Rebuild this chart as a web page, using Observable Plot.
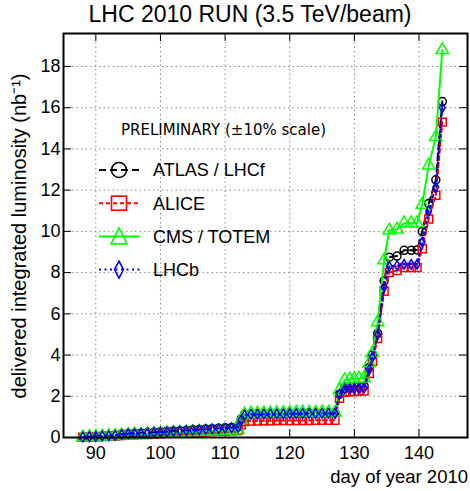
<!DOCTYPE html>
<html><head><meta charset="utf-8">
<script src="https://cdn.jsdelivr.net/npm/d3@7"></script>
<script src="https://cdn.jsdelivr.net/npm/@observablehq/plot@0.6"></script>
<style>body{margin:0;background:#fff} svg{font-family:"Liberation Sans",Arial,sans-serif}</style>
</head><body><div id="chart"></div>
<script>
const title = "LHC 2010 RUN (3.5 TeV/beam)";
const xTitle = "day of year 2010";
const yTitle = "delivered integrated luminosity (nb⁻¹)";
const note = "PRELIMINARY (±10% scale)";
const xTicks = [90, 100, 110, 120, 130, 140];
const yTicks = [0, 2, 4, 6, 8, 10, 12, 14, 16, 18];

const days = [88,89,90,91,92,93,94,95,96,97,98,99,100,101,102,103,104,105,106,107,108,109,110,111,112,112.5,113,114,115,116,117,118,119,120,121,122,123,124,125,126,127,127.7,128.5,129.3,130,130.7,131.5,132.3,132.8,133.6,134.6,135.4,136.6,137.7,138.8,139.7,140.5,141.5,142.6,143.6];
const atlas = [0.03,0.05,0.07,0.09,0.10,0.12,0.17,0.20,0.21,0.22,0.24,0.26,0.28,0.30,0.32,0.33,0.35,0.37,0.39,0.41,0.43,0.45,0.47,0.49,0.51,0.9,1.12,1.15,1.15,1.16,1.16,1.17,1.17,1.18,1.18,1.18,1.19,1.19,1.2,1.2,1.2,2.1,2.45,2.47,2.48,2.5,2.5,3.4,4.0,5.05,7.6,8.75,8.8,9.08,9.08,9.1,10.0,11.35,12.5,16.3];
const alice = [0.01,0.03,0.04,0.05,0.06,0.07,0.10,0.13,0.13,0.14,0.15,0.17,0.18,0.20,0.21,0.22,0.23,0.25,0.26,0.27,0.29,0.30,0.32,0.33,0.34,0.6,0.78,0.8,0.8,0.81,0.81,0.82,0.82,0.82,0.83,0.83,0.83,0.84,0.84,0.84,0.84,1.9,2.2,2.22,2.23,2.24,2.25,3.1,3.7,4.8,7.1,8.0,8.1,8.25,8.25,8.25,9.16,10.6,11.75,15.3];
const cms = [0.02,0.03,0.04,0.05,0.06,0.08,0.11,0.13,0.14,0.15,0.17,0.18,0.20,0.21,0.22,0.23,0.25,0.26,0.28,0.29,0.31,0.32,0.34,0.35,0.37,0.85,1.12,1.17,1.17,1.18,1.18,1.19,1.19,1.2,1.2,1.2,1.21,1.21,1.22,1.22,1.22,2.3,2.78,2.82,2.84,2.86,2.88,3.6,4.1,5.6,8.6,10.05,10.1,10.4,10.4,10.4,11.3,13.2,14.58,18.8];
const lhcb = [0.02,0.04,0.05,0.07,0.08,0.10,0.15,0.18,0.19,0.20,0.22,0.24,0.26,0.28,0.30,0.31,0.33,0.35,0.37,0.39,0.41,0.43,0.45,0.47,0.49,0.85,1.08,1.12,1.12,1.13,1.13,1.14,1.14,1.15,1.15,1.15,1.16,1.16,1.17,1.17,1.17,2.1,2.36,2.37,2.38,2.39,2.40,3.3,3.9,5.0,7.3,8.3,8.35,8.4,8.4,8.4,9.48,11.0,12.15,16.0];
const names = ["ATLAS / LHCf", "ALICE", "CMS / TOTEM", "LHCb"];
const colors = ["#000000", "#ff0000", "#00ff00", "#0000ff"];

const diamond = {draw(ctx, size) {
  const r = Math.sqrt(size / Math.PI);
  ctx.moveTo(0, -r * 1.2); ctx.lineTo(r * 0.72, 0); ctx.lineTo(0, r * 1.2); ctx.lineTo(-r * 0.72, 0); ctx.closePath();
}};
const styles = [
  {dash: "7,4", symbol: "circle", r: 4},
  {dash: "4,3", symbol: "square", r: 4.5},
  {dash: null, symbol: "triangle", r: 4.6},
  {dash: "2,3.5", symbol: diamond, r: 4}
];
const allSeries = [atlas, alice, cms, lhcb];
const rows = allSeries.map(vals => days.map((d, i) => ({day: d, lum: vals[i]})));

const marks = [
  Plot.gridX(xTicks, {stroke: "#888", strokeOpacity: 1, strokeDasharray: "1.5,3"}),
  Plot.gridY(yTicks, {stroke: "#888", strokeOpacity: 1, strokeDasharray: "1.5,3"}),
  Plot.ruleX(xTicks, {insetTop: 396, stroke: "#000"}),
  Plot.ruleX(xTicks, {insetBottom: 396, stroke: "#000"}),
  Plot.ruleY(yTicks, {insetRight: 396, stroke: "#000"}),
  Plot.ruleY(yTicks, {insetLeft: 396, stroke: "#000"}),
  Plot.axisX(xTicks, {tickSize: 0, tickPadding: 9, fontSize: 18, label: null}),
  Plot.axisY(yTicks, {tickSize: 0, tickPadding: 3, fontSize: 18, label: null})
];
rows.forEach((data, k) => {
  marks.push(Plot.line(data, {x: "day", y: "lum", stroke: colors[k], strokeWidth: 2, strokeDasharray: styles[k].dash}));
  marks.push(Plot.dot(data, {x: "day", y: "lum", stroke: colors[k], fill: "none", strokeWidth: 1.5, symbol: styles[k].symbol, r: styles[k].r}));
});
marks.push(Plot.frame({stroke: "#000", strokeWidth: 2}));

const chart = Plot.plot({
  width: 470, height: 491,
  marginLeft: 63, marginRight: 3, marginTop: 33, marginBottom: 54,
  x: {domain: [85, 147.5]},
  y: {domain: [0, 19.6]},
  style: {fontFamily: '"Liberation Sans", Arial, sans-serif', color: "#000", background: "#fff"},
  marks
});
document.getElementById("chart").appendChild(chart);

const svg = d3.select(chart);
svg.append("text").attr("x", 250).attr("y", 22).attr("text-anchor", "middle").attr("font-size", 23).text(title);
svg.append("text").attr("x", 468).attr("y", 483).attr("text-anchor", "end").attr("font-size", 18.5).text(xTitle);
svg.append("text").attr("transform", "translate(26,236) rotate(-90)").attr("text-anchor", "middle").attr("font-size", 20).text(yTitle);

const lg = svg.append("g").attr("text-anchor", "start");
lg.append("text").attr("x", 121).attr("y", 135).attr("font-family", '"DejaVu Sans", sans-serif').attr("font-size", 15).text(note);
const legendSym = [
  g => g.append("circle").attr("r", 7.5),
  g => g.append("rect").attr("x", -7.5).attr("y", -7).attr("width", 15).attr("height", 14),
  g => g.append("path").attr("d", "M0,-8.5L8,7.5L-8,7.5Z"),
  g => g.append("path").attr("d", "M0,-8.5L4.5,0L0,8.5L-4.5,0Z")
];
names.forEach((n, k) => {
  const y = 170 + k * 33.2;
  lg.append("line").attr("x1", 99).attr("x2", 140).attr("y1", y).attr("y2", y)
    .attr("stroke", colors[k]).attr("stroke-width", 2).attr("stroke-dasharray", styles[k].dash);
  const g = lg.append("g").attr("transform", `translate(119,${y})`).attr("fill", "none").attr("stroke", colors[k]).attr("stroke-width", 1.6);
  legendSym[k](g);
  lg.append("text").attr("x", 153).attr("y", y).attr("dy", "0.36em").attr("font-size", 18).text(n);
});
</script></body></html>
